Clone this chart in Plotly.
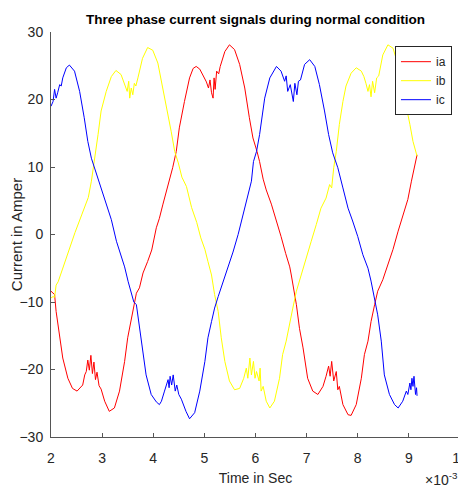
import plotly.graph_objects as go

# ---- data (time in units of 1e-3 s, current in A) ----
ia_t = [2.00, 2.07, 2.10, 2.17, 2.23, 2.33, 2.42, 2.51, 2.62, 2.66, 2.69, 2.72, 2.75, 2.78,
        2.81, 2.84, 2.87, 2.90, 2.94, 2.98, 3.05, 3.14, 3.24, 3.34, 3.44, 3.50, 3.57, 3.63,
        3.67, 3.73, 3.80, 3.89, 3.97, 4.06, 4.12, 4.19, 4.29, 4.38, 4.45, 4.51, 4.61, 4.71,
        4.78, 4.84, 4.91, 4.97, 5.04, 5.08, 5.11, 5.14, 5.17, 5.19, 5.21, 5.24, 5.28, 5.31,
        5.40, 5.49, 5.59, 5.69, 5.79, 5.88, 5.95, 6.03, 6.08, 6.15, 6.21, 6.31, 6.40, 6.50,
        6.59, 6.67, 6.70, 6.74, 6.80, 6.86, 6.93, 7.02, 7.12, 7.22, 7.32, 7.38, 7.43, 7.46,
        7.49, 7.53, 7.58, 7.61, 7.64, 7.71, 7.81, 7.87, 7.97, 8.07, 8.13, 8.20, 8.26, 8.33,
        8.39, 8.49, 8.59, 8.69, 8.79, 8.88, 8.98, 9.05, 9.11, 9.16]
ia = [-8.4, -8.9, -11.4, -14.8, -18.3, -21.3, -22.8, -23.2, -22.3, -20.8, -20.3, -18.6, -20.1, -17.9,
      -20.6, -18.9, -21.5, -20.4, -22.4, -22.9, -24.7, -26.2, -25.7, -23.2, -18.8, -15.3, -12.4, -9.9,
      -8.7, -7.9, -5.7, -4.0, -2.3, 1.0, 2.4, 4.5, 7.3, 9.9, 12.3, 15.8, 19.7, 23.2,
      24.6, 24.9, 24.5, 23.7, 22.6, 21.7, 22.9, 21.0, 20.2, 23.2, 21.5, 24.2, 23.8, 24.9,
      27.1, 28.1, 27.4, 25.2, 21.7, 17.3, 14.3, 12.3, 10.8, 8.2, 6.6, 4.5, 2.3, -0.3,
      -2.8, -4.8, -6.0, -7.7, -10.4, -13.9, -16.8, -21.3, -23.2, -23.7, -22.5, -21.0, -19.5, -21.0,
      -18.8, -21.7, -20.3, -23.0, -22.5, -25.2, -26.7, -26.8, -25.2, -21.3, -17.8, -15.8, -12.9, -10.4,
      -8.4, -6.7, -4.5, -2.2, 0.5, 2.9, 5.2, 7.9, 9.9, 11.8]

ib_t = [2.00, 2.04, 2.07, 2.10, 2.14, 2.24, 2.33, 2.47, 2.60, 2.73, 2.79, 2.85, 2.92, 2.98,
        3.08, 3.18, 3.27, 3.37, 3.45, 3.49, 3.52, 3.54, 3.57, 3.60, 3.63, 3.66, 3.70, 3.79,
        3.89, 3.99, 4.09, 4.19, 4.29, 4.35, 4.42, 4.49, 4.56, 4.65, 4.75, 4.85, 4.93, 5.01,
        5.07, 5.14, 5.20, 5.27, 5.33, 5.40, 5.49, 5.59, 5.69, 5.77, 5.82, 5.85, 5.89, 5.92,
        5.96, 5.99, 6.02, 6.07, 6.09, 6.11, 6.15, 6.21, 6.28, 6.37, 6.47, 6.53, 6.60, 6.66,
        6.73, 6.80, 6.89, 6.99, 7.09, 7.19, 7.28, 7.38, 7.45, 7.49, 7.53, 7.58, 7.64, 7.71,
        7.77, 7.87, 7.97, 8.07, 8.12, 8.16, 8.20, 8.23, 8.26, 8.29, 8.33, 8.37, 8.41, 8.49,
        8.59, 8.69, 8.77, 8.85, 8.95, 9.02, 9.08, 9.11, 9.14, 9.16]
ib = [-9.4, -9.2, -9.3, -7.5, -7.0, -4.8, -2.5, 0.3, 2.9, 5.5, 7.9, 10.8, 14.8, 18.3,
      21.2, 23.4, 24.3, 23.7, 22.2, 21.2, 22.7, 20.2, 21.7, 20.7, 22.4, 22.0, 23.2, 26.1,
      27.7, 27.3, 25.4, 21.7, 17.8, 15.3, 12.3, 10.6, 8.5, 7.1, 4.0, 1.8, -0.5, -2.2,
      -4.0, -6.0, -8.9, -11.4, -15.3, -18.8, -21.7, -23.0, -22.8, -21.3, -19.8, -21.3, -18.3, -20.8,
      -18.8, -21.3, -20.3, -21.7, -19.8, -23.2, -22.5, -24.7, -25.7, -24.7, -21.3, -17.8, -15.8, -13.4,
      -10.9, -8.4, -6.0, -3.5, -1.0, 1.5, 3.9, 5.4, 7.4, 6.9, 9.9, 12.3, 16.3, 19.7,
      22.0, 23.9, 24.7, 24.2, 23.4, 22.4, 21.2, 22.2, 20.4, 22.7, 21.0, 23.2, 23.5, 26.6,
      28.1, 27.6, 25.6, 22.7, 19.2, 16.3, 13.8, 12.8, 12.3, 11.6]

ic_t = [2.00, 2.04, 2.07, 2.10, 2.13, 2.17, 2.20, 2.23, 2.30, 2.36, 2.46, 2.56, 2.65, 2.72,
        2.79, 2.85, 2.92, 2.98, 3.08, 3.18, 3.28, 3.37, 3.44, 3.51, 3.58, 3.62, 3.67, 3.73,
        3.80, 3.86, 3.96, 4.06, 4.12, 4.16, 4.22, 4.25, 4.29, 4.31, 4.33, 4.36, 4.39, 4.43,
        4.46, 4.50, 4.55, 4.64, 4.71, 4.81, 4.91, 5.01, 5.07, 5.14, 5.20, 5.27, 5.37, 5.46,
        5.56, 5.66, 5.75, 5.85, 5.92, 5.96, 6.02, 6.08, 6.13, 6.18, 6.28, 6.41, 6.50, 6.57,
        6.60, 6.63, 6.68, 6.71, 6.74, 6.77, 6.81, 6.84, 6.88, 6.96, 7.06, 7.16, 7.25, 7.35,
        7.43, 7.51, 7.61, 7.71, 7.81, 7.90, 8.00, 8.10, 8.20, 8.26, 8.33, 8.39, 8.46, 8.52,
        8.62, 8.72, 8.79, 8.88, 8.95, 8.98, 9.02, 9.04, 9.06, 9.08, 9.10, 9.13, 9.15, 9.16]
ic = [19.0, 19.7, 21.5, 20.2, 21.0, 22.2, 22.0, 23.2, 24.7, 25.1, 24.2, 21.2, 17.3, 13.8,
      11.3, 9.9, 8.2, 6.9, 4.4, 2.2, -1.0, -3.0, -4.8, -7.0, -9.0, -10.0, -10.4, -13.9,
      -17.3, -20.8, -23.7, -24.8, -25.2, -24.7, -23.2, -22.5, -21.5, -22.7, -21.0, -22.3, -20.8, -23.2,
      -22.3, -23.7, -24.4, -26.2, -27.3, -26.4, -23.2, -18.8, -15.3, -12.9, -10.9, -9.2, -6.9, -5.0,
      -2.6, 0.0, 2.6, 5.6, 7.9, 10.8, 12.3, 14.8, 17.5, 20.2, 23.2, 24.9, 24.2, 22.7,
      23.5, 21.2, 22.2, 20.7, 19.7, 22.4, 20.7, 22.7, 22.9, 25.2, 25.9, 24.9, 22.2, 18.3,
      14.8, 12.1, 9.9, 6.9, 3.9, 2.0, -0.3, -3.0, -5.0, -6.9, -9.9, -11.9, -15.8, -20.8,
      -23.7, -25.2, -25.7, -24.7, -23.2, -23.7, -22.0, -23.0, -21.3, -22.5, -21.0, -23.7, -22.7, -23.9]

x_ticks = [2, 3, 4, 5, 6, 7, 8, 9, 10]
y_ticks = [-30, -20, -10, 0, 10, 20, 30]

FONT = "Liberation Sans, Arial, sans-serif"
AX = "#262626"

# The page body adds an 8 px offset, so the figure is sized to fill the rest of the window.
W, H = 458, 480

fig = go.Figure()
fig.add_trace(go.Scatter(x=ia_t, y=ia, mode="lines", name="ia",
                         line=dict(color="#ff0000", width=1)))
fig.add_trace(go.Scatter(x=ib_t, y=ib, mode="lines", name="ib",
                         line=dict(color="#ffff00", width=1)))
fig.add_trace(go.Scatter(x=ic_t, y=ic, mode="lines", name="ic",
                         line=dict(color="#0000ff", width=1)))

fig.update_layout(
    width=W, height=H,
    margin=dict(l=43, r=6, t=24, b=51),
    paper_bgcolor="white", plot_bgcolor="white",
    font=dict(family=FONT, color=AX, size=14),
    title=dict(text="<b>Three phase current signals during normal condition</b>",
               x=247.5 / W, xanchor="center",
               y=1 - 11 / H, yanchor="middle",
               font=dict(size=13.5, color="#000000", family=FONT)),
    showlegend=True,
    legend=dict(x=0.841, y=0.965, xanchor="left", yanchor="top",
                bgcolor="white", bordercolor=AX, borderwidth=1,
                font=dict(size=12, color=AX, family=FONT),
                tracegroupgap=0),
    xaxis=dict(range=[2, 10], tickvals=x_ticks, ticktext=[str(v) for v in x_ticks],
               ticks="inside", ticklen=4, tickcolor="#555555",
               showline=True, linecolor="#555555", linewidth=1,
               showgrid=False, zeroline=False, mirror=False, automargin=False,
               tickfont=dict(size=14, color=AX), ticklabelstandoff=8,
               ticklabeloverflow="allow",
               title=dict(text="Time in Sec", font=dict(size=14, color=AX), standoff=8)),
    yaxis=dict(range=[-30, 30], tickvals=y_ticks,
               ticks="inside", ticklen=4, tickcolor="#555555",
               showline=True, linecolor="#555555", linewidth=1,
               showgrid=False, zeroline=False, mirror=False, automargin=False,
               tickfont=dict(size=14, color=AX), ticklabelstandoff=4,
               title=dict(text="Current in Amper", font=dict(size=15, color=AX), standoff=2)),
    annotations=[dict(text="\u00d710<sup>-3</sup>", xref="paper", yref="paper",
                      x=1.0, y=(437 - 479) / 405, xanchor="right", yanchor="middle",
                      showarrow=False, font=dict(size=14, color=AX, family=FONT))],
)

fig.write_html("out.html")
